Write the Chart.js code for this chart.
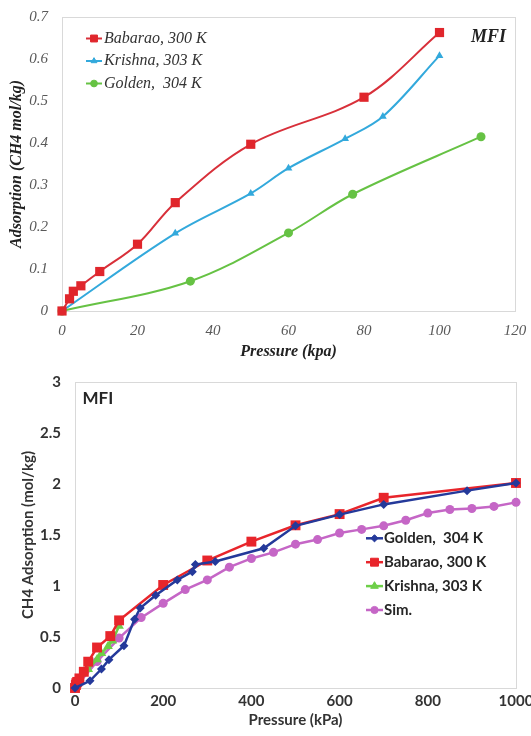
<!DOCTYPE html>
<html>
<head>
<meta charset="utf-8">
<script src="https://cdn.jsdelivr.net/npm/chart.js@4/dist/chart.umd.min.js"></script>
<style>
  html, body { margin: 0; padding: 0; background: #ffffff; }
  #page { position: relative; width: 531px; height: 736px; overflow: hidden; background: #fff; }
  .panel { position: absolute; left: 0; width: 531px; }
  #panelLow { top: 0; height: 362px; }
  #panelHigh { top: 362px; height: 374px; }
  canvas { display: block; }
</style>
</head>
<body>
<div id="page">
  <div class="panel" id="panelLow"><canvas id="lowChart" width="531" height="362"></canvas></div>
  <div class="panel" id="panelHigh"><canvas id="highChart" width="531" height="374"></canvas></div>
</div>
<script>
// ---------- Low-pressure panel: CH4 in MFI up to ~110 kPa ----------
const lowBabaraoP = [0, 2, 3, 5, 10, 20, 30, 50, 80, 100];
const lowBabaraoQ = [0, 0.029, 0.047, 0.06, 0.094, 0.159, 0.258, 0.397, 0.509, 0.663];
const krishnaP    = [0, 30, 50, 60, 75, 85, 100];
const krishnaQ    = [0, 0.185, 0.28, 0.34, 0.41, 0.463, 0.608];
const lowGoldenP  = [0, 34, 60, 77, 111];
const lowGoldenQ  = [0, 0.071, 0.186, 0.278, 0.415];

const lowPressureTicks   = [0, 20, 40, 60, 80, 100, 120];
const lowPressureLabels  = ['0', '20', '40', '60', '80', '100', '120'];
const lowAdsorptionTicks = [0, 0.1, 0.2, 0.3, 0.4, 0.5, 0.6, 0.7];
const lowAdsorptionLabels = ['0', '0.1', '0.2', '0.3', '0.4', '0.5', '0.6', '0.7'];

// ---------- Full-range panel: up to 1000 kPa, with simulation ----------
const highGoldenP = [135, 148, 183, 232, 266, 273, 318, 428, 500, 600, 700, 889, 1000];
const highGoldenQ = [0.675, 0.785, 0.91, 1.06, 1.14, 1.21, 1.24, 1.37, 1.59, 1.70, 1.80, 1.935, 2.01];
const highBabaraoP = [200, 300, 400, 500, 600, 700, 1000];
const highBabaraoQ = [1.01, 1.25, 1.435, 1.595, 1.705, 1.865, 2.01];
const simP = [0, 50, 100, 150, 200, 250, 300, 350, 400, 450, 500, 550, 600, 650, 700, 750, 800, 850, 900, 950, 1000];
const simQ = [0, 0.26, 0.49, 0.69, 0.83, 0.965, 1.06, 1.185, 1.27, 1.33, 1.41, 1.455, 1.52, 1.555, 1.59, 1.645, 1.715, 1.75, 1.76, 1.78, 1.82];

const highPressureTicks   = [0, 200, 400, 600, 800, 1000];
const highPressureLabels  = ['0', '200', '400', '600', '800', '1000'];
const highAdsorptionTicks = [0, 0.5, 1, 1.5, 2, 2.5, 3];
const highAdsorptionLabels = ['0', '0.5', '1', '1.5', '2', '2.5', '3'];

const seriesNames = {
  babarao: 'Babarao, 300 K',
  krishna: 'Krishna, 303 K',
  golden: 'Golden,  304 K',
  sim: 'Sim.'
};

const toPoints = (xs, ys) => xs.map((x, i) => ({ x: x, y: ys[i] }));

// Thin box around the plotting area
const plotFrame = {
  id: 'plotFrame',
  beforeDatasetsDraw(chart, args, opts) {
    const a = chart.chartArea, ctx = chart.ctx;
    ctx.save();
    ctx.strokeStyle = opts.color;
    ctx.lineWidth = 1;
    ctx.strokeRect(Math.round(a.left) + 0.5, Math.round(a.top) + 0.5,
                   Math.round(a.right - a.left), Math.round(a.bottom - a.top));
    ctx.restore();
  }
};

// Legend drawn inside the plotting area, one row per series
const insideLegend = {
  id: 'insideLegend',
  afterDraw(chart, args, opts) {
    if (!opts || !opts.order) return;
    const ctx = chart.ctx;
    ctx.save();
    ctx.font = opts.font;
    ctx.textBaseline = 'middle';
    ctx.textAlign = 'left';
    opts.order.forEach((di, row) => {
      const ds = chart.data.datasets[di];
      const y = opts.y + row * opts.rowGap;
      ctx.strokeStyle = ds.borderColor;
      ctx.lineWidth = ds.borderWidth;
      ctx.beginPath();
      ctx.moveTo(opts.x, y);
      ctx.lineTo(opts.x + opts.sample, y);
      ctx.stroke();
      ctx.fillStyle = ds.pointBackgroundColor;
      ctx.strokeStyle = ds.pointBorderColor;
      ctx.lineWidth = 1;
      Chart.helpers.drawPoint(ctx, {
        pointStyle: ds.pointStyle, radius: ds.pointRadius * opts.markerScale,
        rotation: 0, borderWidth: 1
      }, opts.x + opts.sample / 2, y);
      ctx.fillStyle = opts.color;
      ctx.fillText(ds.label, opts.x + opts.sample + opts.gap, y);
    });
    ctx.restore();
  }
};

// Framework label in a corner of the plot
const panelTag = {
  id: 'panelTag',
  afterDraw(chart, args, opts) {
    if (!opts || !opts.text) return;
    const ctx = chart.ctx;
    ctx.save();
    ctx.font = opts.font;
    ctx.fillStyle = opts.color;
    ctx.textBaseline = 'middle';
    ctx.textAlign = 'left';
    ctx.fillText(opts.text, opts.x, opts.y);
    ctx.restore();
  }
};

Chart.register(plotFrame, insideLegend, panelTag);

function fixedTicks(values) {
  return scale => { scale.ticks = values.map(v => ({ value: v })); };
}

// ---------- Low-pressure chart ----------
const serif = "'Liberation Serif', 'Times New Roman', serif";
const lowRed = '#e0262c', lowBlue = '#33a9dc', lowGreen = '#66c244';

new Chart(document.getElementById('lowChart'), {
  type: 'scatter',
  data: {
    datasets: [
      {
        label: seriesNames.babarao,
        data: toPoints(lowBabaraoP, lowBabaraoQ),
        showLine: true, tension: 0.35,
        borderColor: '#d8303a', borderWidth: 2,
        pointStyle: 'rect', pointRadius: 6.5,
        pointBackgroundColor: lowRed, pointBorderColor: lowRed, pointBorderWidth: 0,
        clip: false
      },
      {
        label: seriesNames.krishna,
        data: toPoints(krishnaP, krishnaQ),
        showLine: true, tension: 0.35,
        borderColor: lowBlue, borderWidth: 2,
        pointStyle: 'triangle', pointRadius: 4.5,
        pointBackgroundColor: lowBlue, pointBorderColor: lowBlue, pointBorderWidth: 0,
        clip: false
      },
      {
        label: seriesNames.golden,
        data: toPoints(lowGoldenP, lowGoldenQ),
        showLine: true, tension: 0.35,
        borderColor: lowGreen, borderWidth: 2,
        pointStyle: 'circle', pointRadius: 4.5,
        pointBackgroundColor: lowGreen, pointBorderColor: lowGreen, pointBorderWidth: 0,
        clip: false
      }
    ]
  },
  options: {
    responsive: false,
    animation: false,
    layout: { padding: { left: 0, right: 16, top: 17, bottom: 0 } },
    plugins: {
      legend: { display: false },
      tooltip: { enabled: false },
      plotFrame: { color: '#d9d9d9' },
      insideLegend: {
        order: [0, 1, 2], x: 86, y: 38.5, rowGap: 22.5, sample: 16, gap: 2,
        markerScale: 0.75,
        font: "italic 16px " + serif, color: '#333333'
      },
      panelTag: { text: 'MFI', x: 471, y: 37.5, font: "italic bold 18px " + serif, color: '#222222' }
    },
    scales: {
      x: {
        type: 'linear', min: 0, max: 120,
        afterBuildTicks: fixedTicks(lowPressureTicks),
        afterFit: s => { s.height = 51; s.paddingLeft = 0; s.paddingRight = 0; },
        grid: { display: false, drawTicks: false },
        border: { display: true, color: '#bfbfbf', width: 1 },
        ticks: { padding: 11, color: '#595959', font: { family: serif, size: 15, style: 'italic' },
                 maxRotation: 0, autoSkip: false,
                 callback: (v, i) => lowPressureLabels[i] },
        title: { display: true, text: 'Pressure (kpa)', color: '#222222',
                 font: { family: serif, size: 16, style: 'italic', weight: 'bold' },
                 padding: { top: 0, bottom: 1 } }
      },
      y: {
        type: 'linear', min: 0, max: 0.7,
        afterBuildTicks: fixedTicks(lowAdsorptionTicks),
        afterFit: s => { s.width = 62; s.paddingTop = 0; s.paddingBottom = 0; },
        grid: { display: false, drawTicks: false },
        border: { display: true, color: '#bfbfbf', width: 1 },
        ticks: { padding: 14, color: '#595959', font: { family: serif, size: 15, style: 'italic' },
                 callback: (v, i) => lowAdsorptionLabels[i] },
        title: { display: true, text: 'Adsorption (CH4 mol/kg)', color: '#222222',
                 font: { family: serif, size: 16, style: 'italic', weight: 'bold' },
                 padding: { top: 7, bottom: 0 } }
      }
    }
  }
});

// ---------- Full-range chart ----------
const sans = "Lato, 'Open Sans', sans-serif";
const hiBlue = '#24399a', hiRed = '#e8252b', hiGreen = '#6dcf48', hiPink = '#c566c6';

new Chart(document.getElementById('highChart'), {
  type: 'scatter',
  data: {
    datasets: [
      {
        label: seriesNames.golden,
        data: toPoints(lowGoldenP.concat(highGoldenP), lowGoldenQ.concat(highGoldenQ)),
        showLine: true, tension: 0,
        borderColor: hiBlue, borderWidth: 2.5,
        pointStyle: 'rectRot', pointRadius: 4.5,
        pointBackgroundColor: hiBlue, pointBorderColor: hiBlue, pointBorderWidth: 0,
        clip: false
      },
      {
        label: seriesNames.babarao,
        data: toPoints(lowBabaraoP.concat(highBabaraoP), lowBabaraoQ.concat(highBabaraoQ)),
        showLine: true, tension: 0,
        borderColor: hiRed, borderWidth: 2.5,
        pointStyle: 'rect', pointRadius: 7,
        pointBackgroundColor: hiRed, pointBorderColor: hiRed, pointBorderWidth: 0,
        clip: false
      },
      {
        label: seriesNames.krishna,
        data: toPoints(krishnaP, krishnaQ),
        showLine: true, tension: 0,
        borderColor: hiGreen, borderWidth: 2.5,
        pointStyle: 'triangle', pointRadius: 5.5,
        pointBackgroundColor: hiGreen, pointBorderColor: hiGreen, pointBorderWidth: 0,
        clip: false
      },
      {
        label: seriesNames.sim,
        data: toPoints(simP, simQ),
        showLine: true, tension: 0,
        borderColor: hiPink, borderWidth: 2.5,
        pointStyle: 'circle', pointRadius: 4.5,
        pointBackgroundColor: hiPink, pointBorderColor: hiPink, pointBorderWidth: 0,
        clip: false
      }
    ]
  },
  options: {
    responsive: false,
    animation: false,
    layout: { padding: { left: 0, right: 15, top: 20, bottom: 0 } },
    plugins: {
      legend: { display: false },
      tooltip: { enabled: false },
      plotFrame: { color: '#d9d9d9' },
      insideLegend: {
        order: [0, 1, 2, 3], x: 366, y: 176.3, rowGap: 23.9, sample: 17, gap: 1,
        markerScale: 0.8,
        font: "bold 15px " + sans, color: '#262626'
      },
      panelTag: { text: 'MFI', x: 82.5, y: 36.5, font: "bold 17px " + sans, color: '#262626' }
    },
    scales: {
      x: {
        type: 'linear', min: 0, max: 1000,
        afterBuildTicks: fixedTicks(highPressureTicks),
        afterFit: s => { s.height = 48; s.paddingLeft = 0; s.paddingRight = 0; },
        grid: { display: false, drawTicks: false },
        border: { display: true, color: '#d0d0d0', width: 1 },
        ticks: { padding: 4, color: '#333333', font: { family: sans, size: 15, weight: 'bold' },
                 maxRotation: 0, autoSkip: false,
                 callback: (v, i) => highPressureLabels[i] },
        title: { display: true, text: 'Pressure (kPa)', color: '#333333',
                 font: { family: sans, size: 15, weight: 'bold' },
                 padding: { top: 0, bottom: 7 } }
      },
      y: {
        type: 'linear', min: 0, max: 3,
        afterBuildTicks: fixedTicks(highAdsorptionTicks),
        afterFit: s => { s.width = 75; s.paddingTop = 0; s.paddingBottom = 0; },
        grid: { display: false, drawTicks: false },
        border: { display: true, color: '#d0d0d0', width: 1 },
        ticks: { padding: 14, color: '#333333', font: { family: sans, size: 15, weight: 'bold' },
                 callback: (v, i) => highAdsorptionLabels[i] },
        title: { display: true, text: 'CH4 Adsorption (mol/kg)', color: '#333333',
                 font: { family: sans, size: 15, weight: 'bold' },
                 padding: { top: 19, bottom: 0 } }
      }
    }
  }
});
</script>
</body>
</html>
